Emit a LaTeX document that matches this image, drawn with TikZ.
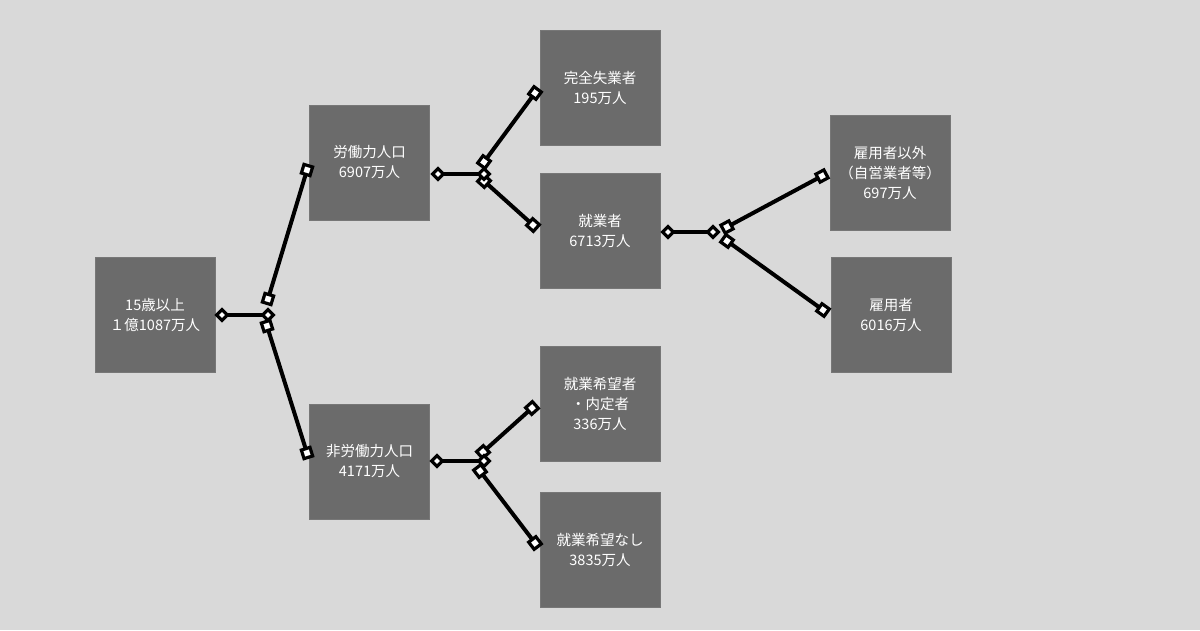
\documentclass[tikz,border=0pt]{standalone}
\usepackage{fontspec}
\newfontfamily\jp{Noto Sans CJK JP}
\definecolor{bg}{HTML}{D9D9D9}
\definecolor{boxc}{HTML}{6B6B6B}
\definecolor{boxe}{HTML}{777777}
\tikzset{
  box/.style={draw=boxe, line width=0.6pt, fill=boxc, minimum width=120pt, minimum height=115pt, inner sep=0pt},
  lbl/.style={text=white, align=center, inner sep=0pt, font=\jp\fontsize{14.5}{20}\selectfont},
  link/.style={line width=4pt, black},
  dia/.style={draw=black, fill=white, line width=3.2pt, shape=diamond, minimum size=12pt, inner sep=0pt},
  sq/.style={draw=black, fill=white, line width=3.2pt, shape=rectangle, minimum size=9pt, inner sep=0pt},
}
\usetikzlibrary{shapes.geometric}
\begin{document}
\begin{tikzpicture}[x=1pt,y=-1pt]
\fill[bg] (0,0) rectangle (1200,630);
\useasboundingbox (0,0) rectangle (1200,630);
% boxes
\node[box] (age) at (155,314.5) {};
\node[box] (lab) at (369.5,162.5) {};
\node[box] (nlab) at (369.5,461.5) {};
\node[box] (unemp) at (600,87.5) {};
\node[box] (emp) at (600,230.5) {};
\node[box] (hope) at (600,403.5) {};
\node[box] (nohope) at (600,549.5) {};
\node[box] (self) at (890,172.5) {};
\node[box] (empd) at (891,314.5) {};
\node[lbl] (tage) at (age.center) {15歳以上\\１億1087万人};
\node[lbl] (tlab) at (lab.center) {労働力人口\\6907万人};
\node[lbl] (tnlab) at (nlab.center) {非労働力人口\\4171万人};
\node[lbl] (tunemp) at (unemp.center) {完全失業者\\195万人};
\node[lbl] (temp) at (emp.center) {就業者\\6713万人};
\node[lbl] (thope) at (hope.center) {就業希望者\\・内定者\\336万人};
\node[lbl] (tnohope) at (nohope.center) {就業希望なし\\3835万人};
\node[lbl] (tself) at (self.center) {雇用者以外\\（自営業者等）\\697万人};
\node[lbl] (tempd) at (empd.center) {雇用者\\6016万人};
% anchor coordinates
\coordinate (a0) at (222,315); \coordinate (a1) at (268,315);
\coordinate (a2) at (268,299); \coordinate (a3) at (307,170);
\coordinate (a4) at (267,326); \coordinate (a5) at (307,453);
\coordinate (b0) at (438,174); \coordinate (b1) at (484,174);
\coordinate (b2) at (484,162); \coordinate (b3) at (535,93);
\coordinate (b4) at (484,181); \coordinate (b5) at (533,225);
\coordinate (c0) at (668,232); \coordinate (c1) at (713,232);
\coordinate (c2) at (727,227); \coordinate (c3) at (822,176);
\coordinate (c4) at (727,241); \coordinate (c5) at (823,310);
\coordinate (d0) at (437,461); \coordinate (d1) at (484,461);
\coordinate (d2) at (483,452); \coordinate (d3) at (532,408);
\coordinate (d4) at (480,471); \coordinate (d5) at (535,543);
% connectors
\foreach \p in {a,b,c,d}{
  \draw[link] (\p2) -- (\p3);
  \draw[link] (\p4) -- (\p5);
  \draw[link] (\p0) -- (\p1);
}
\foreach \p in {a,b,c,d}{
  \path (\p2) -- (\p3) node[pos=0,sloped,sq]{} node[pos=1,sloped,sq]{};
  \path (\p4) -- (\p5) node[pos=0,sloped,sq]{} node[pos=1,sloped,sq]{};
  \node[dia] at (\p0) {};
  \node[dia] at (\p1) {};
}
\end{tikzpicture}
\end{document}
